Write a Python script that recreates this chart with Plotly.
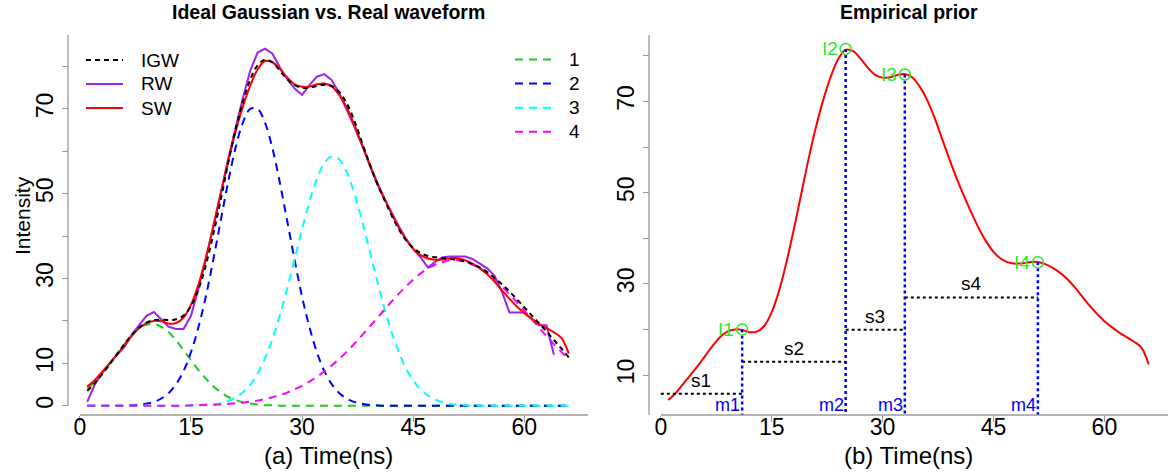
import plotly.graph_objects as go

W, H = 1169, 472
FONT = "Liberation Sans, Arial, sans-serif"

# ---------------- data ----------------
t = list(range(1, 67))
t_rw = list(range(1, 65))

g1 = [4.0, 5.6, 7.6, 9.8, 12.2, 14.5, 16.6, 18.2, 19.1, 19.3, 18.6, 17.3, 15.4, 13.1, 10.8, 8.4,
      6.4, 4.6, 3.2, 2.1, 1.4, 0.8, 0.5, 0.3, 0.1, 0.1] + [0] * 40
g2 = [0, 0, 0, 0, 0, 0, 0.1, 0.2, 0.5, 0.9, 1.7, 3.0, 5.1, 8.2, 12.6, 18.5, 25.7, 34.3, 43.5, 52.6,
      60.7, 66.7, 70.0, 70.0, 66.7, 60.7, 52.6, 43.5, 34.3, 25.7, 18.5, 12.6, 8.2, 5.1, 3.0, 1.7,
      0.9, 0.5, 0.2, 0.1] + [0] * 26
g3 = [0] * 15 + [0.1, 0.2, 0.3, 0.6, 1.1, 1.9, 3.2, 5.0, 7.6, 11.2, 15.7, 21.3, 27.7, 34.6, 41.6,
      48.1, 53.5, 57.2, 58.8, 58.1, 55.2, 50.4, 44.3, 37.4, 30.4, 23.7, 17.8, 12.9, 8.9, 6.0, 3.8,
      2.4, 1.4, 0.8, 0.4, 0.2, 0.1] + [0] * 14
g4 = [0] * 14 + [0.1, 0.1, 0.2, 0.2, 0.3, 0.4, 0.6, 0.7, 1.0, 1.2, 1.6, 2.0, 2.5, 3.1, 3.9, 4.7,
      5.7, 6.8, 8.1, 9.5, 11.0, 12.7, 14.5, 16.4, 18.4, 20.4, 22.4, 24.4, 26.3, 28.1, 29.7, 31.2,
      32.4, 33.3, 33.9, 34.3, 34.3, 33.9, 33.3, 32.4, 31.2, 29.7, 28.1, 26.3, 24.4, 22.4, 20.4,
      18.4, 16.4, 14.5, 12.7, 11.0]
igw = [3.5, 5.3, 7.4, 9.7, 12.1, 14.5, 16.7, 18.4, 19.6, 20.2, 20.3, 20.2, 20.4, 21.3, 23.5, 27.4,
       33.1, 40.3, 48.4, 57.0, 65.0, 71.6, 76.9, 80.3, 81.6, 81.0, 79.0, 77.0, 75.6, 75.0, 75.0,
       75.4, 75.7, 75.4, 74.0, 71.4, 67.5, 62.6, 57.6, 53.0, 49.0, 45.2, 41.8, 39.1, 37.2, 36.0,
       35.3, 35.0, 34.8, 34.6, 34.4, 34.0, 33.4, 32.6, 31.5, 30.1, 28.6, 26.9, 25.1, 23.2, 21.3,
       19.4, 17.5, 15.5, 13.5, 11.4]
rw = [0.9, 5.0, 7.6, 10.0, 12.0, 13.8, 16.8, 19.0, 21.2, 22.1, 20.3, 18.6, 18.1, 18.1, 21.2, 27.5,
      34.5, 42.0, 50.0, 58.0, 65.5, 72.5, 79.0, 83.3, 84.2, 83.0, 79.8, 77.0, 74.8, 73.3, 75.6,
      77.6, 78.2, 76.8, 73.8, 70.0, 66.0, 61.8, 57.2, 52.8, 49.2, 45.8, 42.5, 39.5, 37.0, 35.0,
      32.6, 34.0, 35.0, 35.2, 35.2, 35.2, 34.6, 33.6, 32.4, 30.6, 26.8, 22.0, 22.0, 22.0, 20.5,
      19.0, 19.0, 12.0]
sw = [4.5, 6.0, 8.0, 10.0, 12.0, 14.2, 16.4, 18.3, 19.5, 20.0, 19.9, 19.4, 19.5, 20.8, 23.8, 28.5,
      34.8, 42.0, 49.8, 57.5, 64.5, 70.5, 75.5, 79.3, 81.3, 81.0, 79.4, 77.4, 75.8, 75.2, 75.3,
      75.8, 76.0, 75.3, 73.3, 70.4, 66.5, 62.0, 57.5, 53.2, 49.3, 45.6, 42.2, 39.3, 37.0, 35.5,
      34.7, 34.4, 34.5, 34.8, 34.8, 34.3, 33.5, 32.4, 31.0, 29.2, 27.2, 25.2, 23.4, 21.8, 20.5,
      19.3, 18.3, 17.3, 16.0, 12.3]

# empirical prior
m_pos = [11, 25, 33, 51]
I_val = [20.0, 81.5, 75.9, 34.7]
s_val = [5.9, 12.9, 19.9, 27.0]
s_start = [0, 11, 25, 33]
I_lab = ["I1", "I2", "I3", "I4"]
m_lab = ["m1", "m2", "m3", "m4"]
s_lab = ["s1", "s2", "s3", "s4"]

x_ticks = [0, 15, 30, 45, 60]
y1_ticks = [0, 10, 20, 30, 40, 50, 60, 70, 80]
y1_text = ["0", "10", "", "30", "", "50", "", "70", ""]
y2_ticks = [10, 20, 30, 40, 50, 60, 70, 80]
y2_text = ["10", "", "30", "", "50", "", "70", ""]

# ---------------- geometry ----------------
XR = [-1.6, 68.6]
Y1R = [-3.37, 87.43]
Y2R = [1.23, 84.56]
def px(x): return x / W
def py(y): return 1 - y / H

GREEN = "#22C822"
LGREEN = "#2EE82E"
DASH = "8px,6px"

fig = go.Figure()

comps = [(g1, GREEN), (g2, "#0000FF"), (g3, "#00FFFF"), (g4, "#FF00FF")]
for vals, col in comps:
    fig.add_trace(go.Scatter(x=t, y=vals, mode="lines", xaxis="x", yaxis="y",
                             line=dict(color=col, width=2, dash=DASH, shape="spline"),
                             showlegend=False, hoverinfo="skip"))
fig.add_trace(go.Scatter(x=t_rw, y=rw, mode="lines", xaxis="x", yaxis="y",
                         line=dict(color="#A020F0", width=2), showlegend=False))
fig.add_trace(go.Scatter(x=t, y=sw, mode="lines", xaxis="x", yaxis="y",
                         line=dict(color="#FF0000", width=2, shape="spline"), showlegend=False))
fig.add_trace(go.Scatter(x=t, y=igw, mode="lines", xaxis="x", yaxis="y",
                         line=dict(color="black", width=2, dash="5px,4px", shape="spline"),
                         showlegend=False))

# right panel
fig.add_trace(go.Scatter(x=t, y=sw, mode="lines", xaxis="x2", yaxis="y2",
                         line=dict(color="#FF0000", width=2, shape="spline"), showlegend=False))
vx, vy = [], []
for m, iv in zip(m_pos, I_val):
    vx += [m, m, None]
    vy += [iv, Y2R[0], None]
fig.add_trace(go.Scatter(x=vx, y=vy, mode="lines", xaxis="x2", yaxis="y2",
                         line=dict(color="#0000FF", width=2.5, dash="3px,3px"), showlegend=False))
hx, hy = [], []
for a, b, s in zip(s_start, m_pos, s_val):
    hx += [a, b, None]
    hy += [s, s, None]
fig.add_trace(go.Scatter(x=hx, y=hy, mode="lines", xaxis="x2", yaxis="y2",
                         line=dict(color="black", width=2, dash="3px,3px"), showlegend=False))
fig.add_trace(go.Scatter(x=m_pos, y=I_val, mode="markers", xaxis="x2", yaxis="y2",
                         marker=dict(symbol="circle-open", size=11, color=LGREEN,
                                     line=dict(width=1.5, color=LGREEN)), showlegend=False))

ann = []
for m, iv, lab in zip(m_pos, I_val, I_lab):
    ann.append(dict(x=m, y=iv, xref="x2", yref="y2", text=lab, showarrow=False,
                    xanchor="right", yanchor="middle", xshift=-6,
                    font=dict(size=19, color=LGREEN, family=FONT)))
for m, lab in zip(m_pos, m_lab):
    ann.append(dict(x=m, y=3.5, xref="x2", yref="y2", text=lab, showarrow=False,
                    xanchor="right", yanchor="middle", xshift=0,
                    font=dict(size=18, color="#0000FF", family=FONT)))
for a, b, s, lab in zip(s_start, m_pos, s_val, s_lab):
    ann.append(dict(x=(a + b) / 2, y=s, xref="x2", yref="y2", text=lab, showarrow=False,
                    xanchor="center", yanchor="bottom", yshift=1,
                    font=dict(size=19, color="black", family=FONT)))

# titles
ann.append(dict(x=px(328), y=py(12), xref="paper", yref="paper", showarrow=False,
                text="<b>Ideal Gaussian vs. Real waveform</b>", xanchor="center", yanchor="middle",
                font=dict(size=19.5, color="black", family=FONT)))
ann.append(dict(x=px(908.5), y=py(12), xref="paper", yref="paper", showarrow=False,
                text="<b>Empirical prior</b>", xanchor="center", yanchor="middle",
                font=dict(size=19.5, color="black", family=FONT)))
ann.append(dict(x=px(328), y=py(455), xref="paper", yref="paper", showarrow=False,
                text="(a) Time(ns)", xanchor="center", yanchor="middle",
                font=dict(size=24, color="black", family=FONT)))
ann.append(dict(x=px(908.5), y=py(455), xref="paper", yref="paper", showarrow=False,
                text="(b) Time(ns)", xanchor="center", yanchor="middle",
                font=dict(size=24, color="black", family=FONT)))
ann.append(dict(x=px(22), y=py(216), xref="paper", yref="paper", showarrow=False,
                text="Intensity", textangle=-90, xanchor="center", yanchor="middle",
                font=dict(size=21, color="black", family=FONT)))

# legends (drawn manually like R's legend boxes without frame)
shapes = []
leg1 = [("IGW", "black", "5px,4px"), ("RW", "#A020F0", "solid"), ("SW", "#FF0000", "solid")]
for i, (lab, col, dash) in enumerate(leg1):
    yy = 60 + i * 24
    shapes.append(dict(type="line", xref="paper", yref="paper", x0=px(86), x1=px(123),
                       y0=py(yy), y1=py(yy), line=dict(color=col, width=2, dash=dash)))
    ann.append(dict(x=px(139), y=py(yy), xref="paper", yref="paper", text=lab, showarrow=False,
                    xanchor="left", yanchor="middle", font=dict(size=19, color="black", family=FONT)))
leg2 = [("1", GREEN), ("2", "#0000FF"), ("3", "#00FFFF"), ("4", "#FF00FF")]
for i, (lab, col) in enumerate(leg2):
    yy = 59.5 + i * 24.1
    shapes.append(dict(type="line", xref="paper", yref="paper", x0=px(515), x1=px(554),
                       y0=py(yy), y1=py(yy), line=dict(color=col, width=2, dash=DASH)))
    ann.append(dict(x=px(567), y=py(yy), xref="paper", yref="paper", text=lab, showarrow=False,
                    xanchor="left", yanchor="middle", font=dict(size=19, color="black", family=FONT)))

AX = "#9a9a9a"
# axis lines
shapes += [
    dict(type="line", xref="x", yref="paper", x0=0, x1=XR[1], y0=py(415), y1=py(415),
         line=dict(color=AX, width=1.3)),
    dict(type="line", xref="paper", yref="y", x0=px(68), x1=px(68), y0=0, y1=Y1R[1],
         line=dict(color=AX, width=1.3)),
    dict(type="line", xref="x2", yref="paper", x0=0, x1=XR[1], y0=py(415), y1=py(415),
         line=dict(color=AX, width=1.3)),
    dict(type="line", xref="paper", yref="paper", x0=px(649), x1=px(649), y0=py(415), y1=py(35),
         line=dict(color=AX, width=1.3)),
]

common = dict(showgrid=False, zeroline=False, showline=False, ticks="outside", tickcolor=AX,
              ticklen=6, tickwidth=1.2, tickfont=dict(size=23, color="black", family=FONT))

fig.update_layout(
    width=W, height=H, autosize=False,
    margin=dict(l=0, r=0, t=0, b=0),
    paper_bgcolor="white", plot_bgcolor="white",
    showlegend=False,
    xaxis=dict(domain=[px(68), px(588)], range=XR, tickvals=x_ticks, anchor="free",
               position=py(415), ticklabelstandoff=-15, **common),
    yaxis=dict(domain=[py(420), py(35)], range=Y1R, tickvals=y1_ticks, ticktext=y1_text,
               tickangle=-90, anchor="free", position=px(68), **common),
    xaxis2=dict(domain=[px(649), px(1168)], range=XR, tickvals=x_ticks, anchor="free",
                position=py(415), ticklabelstandoff=-15, **common),
    yaxis2=dict(domain=[py(415), py(35)], range=Y2R, tickvals=y2_ticks, ticktext=y2_text,
                tickangle=-90, anchor="free", position=px(649), **common),
    annotations=ann,
    shapes=shapes,
)

fig.write_html("out.html")
